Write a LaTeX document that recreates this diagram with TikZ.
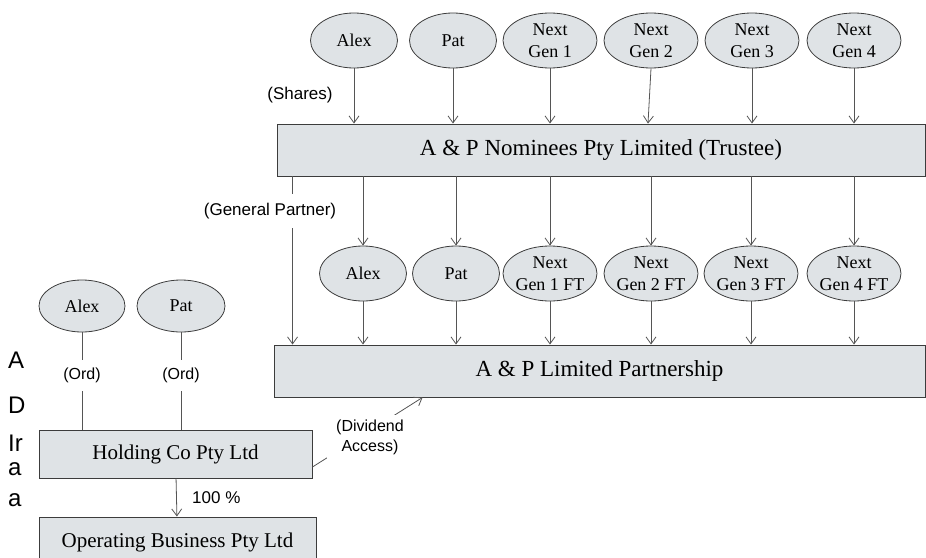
\documentclass[tikz,border=0pt]{standalone}
\usepackage{fontspec}
\setmainfont{Liberation Serif}
\newfontfamily\labfont{Liberation Sans}
\usetikzlibrary{shapes.geometric,arrows.meta}
\definecolor{boxfill}{HTML}{DFE3E6}
\definecolor{edge}{HTML}{3C3C3C}
\definecolor{wire}{HTML}{555555}

\begin{document}
\begin{tikzpicture}[x=1pt,y=-1pt,
  entity/.style={draw=edge, fill=boxfill, line width=0.9pt, inner sep=0pt,
    font=\fontsize{23}{26}\selectfont},
  smallentity/.style={entity, font=\fontsize{21}{24}\selectfont},
  person/.style={ellipse, draw=edge, fill=boxfill, line width=0.8pt, inner sep=0pt,
    minimum height=55pt, minimum width=87pt},
  ngen/.style={person, minimum width=94pt},
  ptext/.style={font=\fontsize{18}{22}\selectfont, align=center, inner sep=0pt},
  link/.style={draw=wire, line width=0.8pt, -{Straight Barb[length=7pt,width=10pt]}},
  plain/.style={draw=wire, line width=0.8pt},
  tag/.style={font=\labfont\fontsize{17}{20}\selectfont},
  smalltag/.style={font=\labfont\fontsize{16}{20}\selectfont, align=center},
  cut/.style={tag, fill=white, inner xsep=2pt, inner ysep=9pt},
  frag/.style={font=\labfont\fontsize{24}{28}\selectfont, inner sep=0pt, anchor=base west}
]
\useasboundingbox (0,0) rectangle (926,557);

% shareholders of the trustee company
\node[person, label={[ptext]center:Alex}] (t1) at (354,40.5) {};
\node[person, label={[ptext]center:Pat}]  (t2) at (453,40.5) {};
\node[ngen, label={[ptext]center:Next\\Gen 1}] (t3) at (550,40.5) {};
\node[ngen, label={[ptext]center:Next\\Gen 2}] (t4) at (651,40.5) {};
\node[ngen, label={[ptext]center:Next\\Gen 3}] (t5) at (752,40.5) {};
\node[ngen, label={[ptext]center:Next\\Gen 4}] (t6) at (854,40.5) {};

% trustee
\node[entity, minimum width=648pt, minimum height=52pt] (nom) at (601,150)
  {A \& P Nominees Pty Limited (Trustee)};

% family trusts / partners
\node[person, label={[ptext]center:Alex}] (b1) at (363,273.5) {};
\node[person, label={[ptext]center:Pat}]  (b2) at (456,273.5) {};
\node[ngen, label={[ptext]center:Next\\Gen 1 FT}] (b3) at (550,273.5) {};
\node[ngen, label={[ptext]center:Next\\Gen 2 FT}] (b4) at (651,273.5) {};
\node[ngen, label={[ptext]center:Next\\Gen 3 FT}] (b5) at (751,273.5) {};
\node[ngen, label={[ptext]center:Next\\Gen 4 FT}] (b6) at (854,273.5) {};

% partnership
\node[entity, minimum width=651pt, minimum height=52pt] (part) at (599.5,371)
  {A \& P Limited Partnership};

% operating group
\node[person, minimum width=86pt, minimum height=52pt, label={[ptext]center:Alex}] (l1) at (82,306) {};
\node[person, minimum width=88pt, minimum height=52pt, label={[ptext]center:Pat}]  (l2) at (181,306) {};
\node[smallentity, minimum width=273pt, minimum height=48pt] (hold) at (175.5,454)
  {Holding Co Pty Ltd};
\node[smallentity, minimum width=277pt, minimum height=50pt] (op) at (177.5,542)
  {Operating Business Pty Ltd};

% shares in the trustee
\foreach \n in {t1,t2,t3,t5,t6}
  \draw[link] (\n) -- (\n |- nom.north);
\draw[link] (t4.south) -- ([xshift=-3pt]t4.south |- nom.north);
\node[tag] (shares) at (300,95) {(Shares)};

% trustee to each trust, trusts to partnership
\foreach \n in {b1,b2,b3,b4,b5,b6} {
  \draw[link] (\n |- nom.south) -- (\n);
  \draw[link] (\n) -- (\n |- part.north);
}

% general partner
\draw[link] ([xshift=16pt]nom.south west) -- ([xshift=16pt]nom.south west |- part.north);
\node[cut] (gp) at (270,211) {(General Partner)};

% ordinary shares in the holding company
\draw[plain] (l1) -- (l1 |- hold.north)
  node[smalltag, fill=white, inner xsep=2pt, inner ysep=8pt, pos=0.44] {(Ord)};
\draw[plain] (l2) -- (l2 |- hold.north)
  node[smalltag, fill=white, inner xsep=2pt, inner ysep=8pt, pos=0.44] {(Ord)};

% holding to operating
\draw[link] (hold) -- (op) node[tag, midway, right, xshift=12pt] {100 \%};

% dividend access
\draw[link] ([yshift=-13pt]hold.east) -- ([xshift=149pt]part.south west)
  node[smalltag, fill=white, inner xsep=9pt, inner ysep=5pt, midway, xshift=2.5pt, yshift=-5pt]
  {(Dividend\\Access)};

% text running behind the diagram, cut off at its left edge
\begin{scope}
  \clip (0,330) rectangle (25,520);
  \node[frag] (f1) at (8,368) {A};
  \node[frag] (f2) at (8,413) {D};
  \node[frag] (f3) at (8,451) {Ir};
  \node[frag] (f4) at (8,475) {a};
  \node[frag] (f5) at (8,506) {a};
\end{scope}
\end{tikzpicture}
\end{document}
